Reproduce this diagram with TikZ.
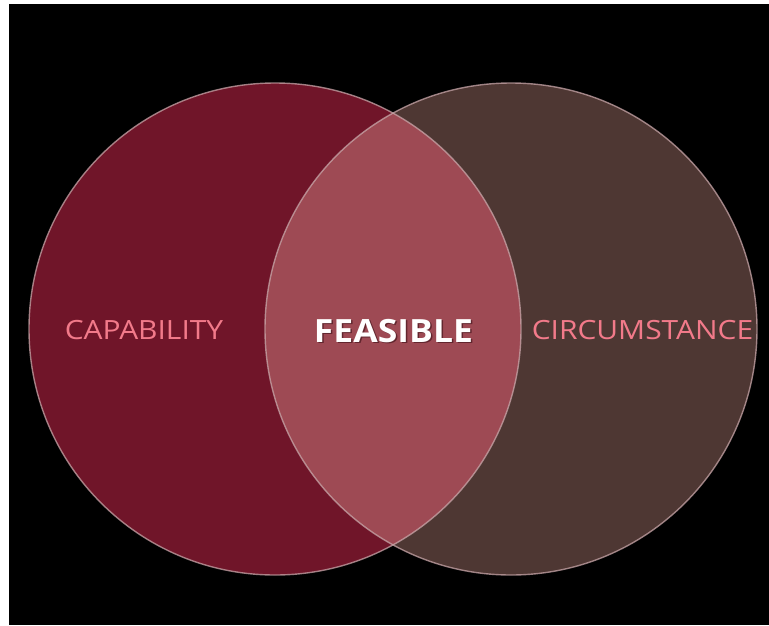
\documentclass[tikz,border=0pt]{standalone}
\usepackage{fontspec}
\setmainfont{Open Sans}
\begin{document}
\begin{tikzpicture}[x=1pt,y=-1pt,
  set/.style={circle, minimum size=492pt, inner sep=0pt},
  rim/.style={draw=rimcol, line width=1.4pt, draw opacity=0.75},
  sidelabel/.style={text=labelpink, font=\fontsize{26.5}{28}\selectfont, anchor=base, inner sep=0pt, xscale=1.13},
  mainlabel/.style={font=\bfseries\fontsize{32}{34}\selectfont, anchor=base, inner sep=0pt, xscale=1.11}]
  \definecolor{capcol}{HTML}{701529}
  \definecolor{circol}{HTML}{4E3733}
  \definecolor{feacol}{HTML}{9E4A54}
  \definecolor{rimcol}{HTML}{C9A7AA}
  \definecolor{labelpink}{HTML}{F27A8A}
  \definecolor{shadowcol}{HTML}{3A0F16}
  % page and dark backdrop
  \useasboundingbox (0,0) rectangle (769,625);
  \fill[white] (0,0) rectangle (769,625);
  \fill[black] (9,4) rectangle (769,625);
  % the two sets
  \node[set, fill=capcol] (cap) at (275,329) {};
  \node[set, fill=circol] (cir) at (511,329) {};
  % their overlap
  \begin{scope}
    \clip (cap.center) circle (246);
    \fill[feacol] (cir.center) circle (246);
  \end{scope}
  % outlines
  \draw[rim] (cap.center) circle (246);
  \draw[rim] (cir.center) circle (246);
  % labels
  \node[sidelabel] (capl) at (144,339) {CAPABILITY};
  \node[sidelabel] (cirl) at (642.5,339) {CIRCUMSTANCE};
  \node[mainlabel, text=shadowcol, opacity=0.6] (feas) at (395,343.5) {FEASIBLE};
  \node[mainlabel, text=white] (feal) at (393.5,342) {FEASIBLE};
\end{tikzpicture}
\end{document}
